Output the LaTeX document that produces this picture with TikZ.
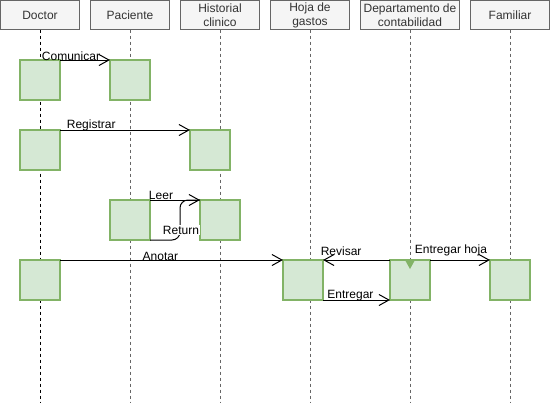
\documentclass[tikz,border=0pt]{standalone}
\usepackage{fontspec}
\setmainfont{Liberation Sans}
\usetikzlibrary{arrows.meta,calc}
\definecolor{hdrfill}{HTML}{F5F5F5}
\definecolor{hdrdraw}{HTML}{666666}
\definecolor{hdrtext}{HTML}{333333}
\definecolor{actfill}{HTML}{D5E8D4}
\definecolor{actdraw}{HTML}{82B366}
\begin{document}
\begin{tikzpicture}[x=1pt,y=-1pt,
  hdr/.style={draw=hdrdraw, fill=hdrfill, text=hdrtext, line width=1pt, minimum height=29pt, inner sep=0pt, outer sep=0pt, font=\fontsize{12}{14}\selectfont, align=center},
  act/.style={draw=actdraw, fill=actfill, line width=2pt, minimum width=40pt, minimum height=40pt, inner sep=0pt, outer sep=0pt},
  life/.style={dash pattern=on 3pt off 3pt, line width=1pt, draw=hdrdraw},
  msg/.style={line width=1pt, -{Straight Barb[length=10pt,width=11pt]}},
  plainline/.style={line width=1pt},
  lbl/.style={font=\fontsize{12}{14}\selectfont, inner sep=0pt}]
\useasboundingbox (0,0) rectangle (551,402);
% headers
\node[hdr, minimum width=79pt] (hDoc) at (40,15) {Doctor};
\node[hdr, minimum width=79pt] (hPac) at (130,15) {Paciente};
\node[hdr, minimum width=79pt] (hHis) at (220,15) {Historial\\clinico};
\node[hdr, minimum width=79pt] (hHoj) at (310,15) {Hoja de\\gastos};
\node[hdr, minimum width=99pt] (hDep) at (410,15) {Departamento de\\contabilidad};
\node[hdr, minimum width=79pt] (hFam) at (510,15) {Familiar};
% lifeline ends
\coordinate (eDoc) at (40,402);
\coordinate (ePac) at (130,402);
\coordinate (eHis) at (220,402);
\coordinate (eHoj) at (310,402);
\coordinate (eDep) at (410,402);
\coordinate (eFam) at (510,402);
\draw[life, draw=black] (hDoc) -- (eDoc);
\draw[life] (hPac) -- (ePac);
\draw[life] (hHis) -- (eHis);
\draw[life] (hHoj) -- (eHoj);
\draw[life] (hDep) -- (eDep);
\draw[life] (hFam) -- (eFam);
% activations
\node[act] (dA) at (40,80) {};
\node[act] (pA) at (130,80) {};
\node[act] (dB) at (40,150) {};
\node[act] (hB) at (210,150) {};
\node[act] (pC) at (130,220) {};
\node[act] (hC) at (220,220) {};
\node[act] (dD) at (40,280) {};
\node[act] (gD) at (303,280) {};
\node[act] (cD) at (410,280) {};
\node[act] (fD) at (510,280) {};
\fill[actdraw] ([xshift=-5pt]cD.north) -- ([xshift=5pt]cD.north) -- ([yshift=-9pt]cD.north) -- cycle;
% messages
\draw[msg] (dA.north east) -- node[lbl, pos=0.22, yshift=4pt] (lCom) {Comunicar} (pA.north west);
\draw[msg] (dB.north east) -- node[lbl, pos=0.24, yshift=5pt] (lReg) {Registrar} (hB.north west);
\draw[msg] (pC.north east) -- node[lbl, pos=0.22, yshift=5pt] (lLee) {Leer} (hC.north west);
\draw[plainline, rounded corners=8pt] (hC.north west) -- ([xshift=-20pt]hC.north west) |- (pC.south east);
\node[lbl, fill=white, inner sep=1pt] (lRet) at (181,230) {Return};
\draw[msg] (dD.north east) -- node[lbl, pos=0.45, yshift=4pt] (lAno) {Anotar} (gD.north west);
\draw[msg] (cD.north west) -- node[lbl, pos=0.73, yshift=9pt] (lRev) {Revisar} (gD.north east);
\draw[msg] (cD.north east) -- node[lbl, pos=0.35, yshift=10pt] (lEnh) {Entregar hoja} (fD.north west);
\draw[msg] (gD.south east) -- node[lbl, pos=0.41, yshift=4pt] (lEnt) {Entregar} (cD.south west);
\end{tikzpicture}
\end{document}
